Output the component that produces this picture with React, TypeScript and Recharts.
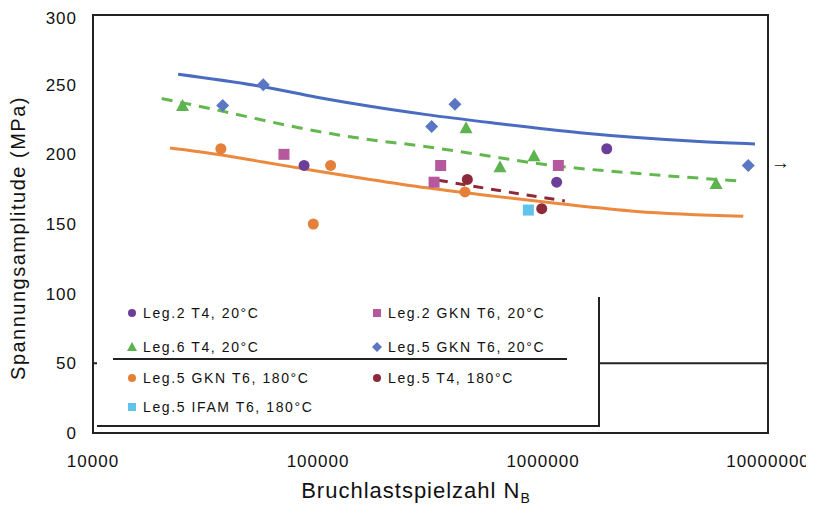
import { ComposedChart, Scatter, Line, XAxis, YAxis, ReferenceLine, ReferenceArea } from "recharts"

// fatigue test results, N = cycles to failure, s = stress amplitude (MPa)
const leg2T4_20 = [
  { n: 86700, s: 192 },
  { n: 1150000, s: 180 },
  { n: 1920000, s: 204 },
]
const leg2GknT6_20 = [
  { n: 70600, s: 200 },
  { n: 351000, s: 192 },
  { n: 328000, s: 180 },
  { n: 1170000, s: 192 },
]
const leg6T4_20 = [
  { n: 25000, s: 235 },
  { n: 455000, s: 219 },
  { n: 644000, s: 191 },
  { n: 912000, s: 199 },
  { n: 5880000, s: 179 },
]
const leg5GknT6_20 = [
  { n: 37700, s: 235 },
  { n: 57100, s: 250 },
  { n: 406000, s: 236 },
  { n: 320000, s: 220 },
  { n: 8170000, s: 192 },
]
const leg5GknT6_180 = [
  { n: 37000, s: 204 },
  { n: 113800, s: 192 },
  { n: 95300, s: 150 },
  { n: 450000, s: 173 },
]
const leg5T4_180 = [
  { n: 461000, s: 182 },
  { n: 987000, s: 161 },
]
const leg5IfamT6_180 = [{ n: 861000, s: 160 }]

// trend lines
const trendBlue = [
  { n: 23900, s: 257.5 },
  { n: 57100, s: 248.5 },
  { n: 98700, s: 241 },
  { n: 170000, s: 234.5 },
  { n: 304000, s: 228.5 },
  { n: 601000, s: 222.5 },
  { n: 1460000, s: 215.5 },
  { n: 2610000, s: 212 },
  { n: 5160000, s: 209 },
  { n: 8750000, s: 207.5 },
]
const trendGreen = [
  { n: 20200, s: 240 },
  { n: 34000, s: 232.5 },
  { n: 53400, s: 225.5 },
  { n: 89000, s: 218 },
  { n: 154000, s: 211.5 },
  { n: 304000, s: 205.5 },
  { n: 490000, s: 200.5 },
  { n: 1040000, s: 192.5 },
  { n: 2780000, s: 186 },
  { n: 7260000, s: 181 },
]
const trendOrange = [
  { n: 22000, s: 204.5 },
  { n: 35500, s: 200 },
  { n: 57100, s: 194.5 },
  { n: 98700, s: 188 },
  { n: 170000, s: 182 },
  { n: 304000, s: 176 },
  { n: 601000, s: 170 },
  { n: 1190000, s: 164.5 },
  { n: 2610000, s: 159 },
  { n: 7760000, s: 155.5 },
]
const trendDarkRed = [
  { n: 341000, s: 181.5 },
  { n: 562000, s: 175.5 },
  { n: 1250000, s: 166.5 },
]

const xTicks = [10000, 100000, 1000000, 10000000]
const yTicks = [0, 50, 100, 150, 200, 250, 300]

const legendItems = [
  { label: "Leg.2 T4, 20°C", kind: "circle", color: "#6b3f99", col: 0, row: 0 },
  { label: "Leg.2 GKN T6, 20°C", kind: "square", color: "#b5589e", col: 1, row: 0 },
  { label: "Leg.6 T4, 20°C", kind: "triangle", color: "#5cb34f", col: 0, row: 1 },
  { label: "Leg.5 GKN T6, 20°C", kind: "diamond", color: "#5b77c4", col: 1, row: 1 },
  { label: "Leg.5 GKN T6, 180°C", kind: "circle", color: "#e4803a", col: 0, row: 2 },
  { label: "Leg.5 T4, 180°C", kind: "circle", color: "#8c2a3a", col: 1, row: 2 },
  { label: "Leg.5 IFAM T6, 180°C", kind: "square", color: "#5fc3ea", col: 0, row: 3 },
]

const FONT = "'Liberation Sans', Arial, sans-serif"

const drawMarker = (kind: string, color: string, cx: number, cy: number, r = 5.5) => {
  if (kind === "square") return <rect x={cx - r} y={cy - r} width={r * 2} height={r * 2} fill={color} />
  if (kind === "triangle")
    return <polygon points={`${cx},${cy - r - 1} ${cx - r - 1},${cy + r} ${cx + r + 1},${cy + r}`} fill={color} />
  if (kind === "diamond")
    return <polygon points={`${cx},${cy - r - 1} ${cx + r + 1},${cy} ${cx},${cy + r + 1} ${cx - r - 1},${cy}`} fill={color} />
  return <circle cx={cx} cy={cy} r={r} fill={color} />
}

const shape = (kind: string, color: string) => (props: any) => drawMarker(kind, color, props.cx, props.cy)

const LegendBox = () => (
  <div
    style={{
      position: "absolute",
      left: 89,
      top: 289,
      width: 501,
      height: 128,
      background: "#fff",
      borderRight: "2px solid #222",
      borderBottom: "2px solid #222",
      fontFamily: FONT,
      fontSize: 14,
      letterSpacing: 1.6,
      color: "#111",
    }}
  >
    <div style={{ position: "absolute", left: 16, top: 61, width: 454, height: 2, background: "#222" }} />
    {legendItems.map((it) => {
      const cy = [16, 50, 81, 110][it.row]
      const mx = it.col === 0 ? 35 : 280
      return (
        <div key={it.label}>
          <svg style={{ position: "absolute", left: mx - 7, top: cy - 7 }} width={14} height={14}>
            {drawMarker(it.kind, it.color, 7, 7, 4)}
          </svg>
          <div style={{ position: "absolute", left: mx + 11, top: cy - 9, lineHeight: "18px", whiteSpace: "nowrap" }}>
            {it.label}
          </div>
        </div>
      )
    })}
  </div>
)

export default function App() {
  return (
    <div style={{ position: "relative", width: 806, height: 501, fontFamily: FONT }}>
      <ComposedChart width={806} height={501} margin={{ top: 7, right: 46, bottom: 26, left: 25 }}>
        <XAxis
          dataKey="n"
          type="number"
          scale="log"
          domain={[10000, 10000000]}
          ticks={xTicks}
          allowDataOverflow
          height={50}
          tickSize={0}
          tickMargin={22}
          axisLine={{ stroke: "#222", strokeWidth: 2 }}
          tick={{ fill: "#111", fontSize: 17, letterSpacing: 1 }}
        />
        <YAxis
          dataKey="s"
          type="number"
          domain={[0, 300]}
          ticks={yTicks}
          width={60}
          tickSize={0}
          tickMargin={16}
          axisLine={{ stroke: "#222", strokeWidth: 2 }}
          tick={{ fill: "#111", fontSize: 17, letterSpacing: 1 }}
        />
        <ReferenceArea x1={10000} x2={10000000} y1={0} y2={300} fill="none" stroke="#222" strokeWidth={2} />
        <ReferenceLine y={50} stroke="#222" strokeWidth={2} />
        <Line data={trendBlue} dataKey="s" type="monotone" stroke="#4a6cc0" strokeWidth={3} dot={false} isAnimationActive={false} />
        <Line data={trendGreen} dataKey="s" type="monotone" stroke="#62b84f" strokeWidth={3} strokeDasharray="11 8" dot={false} isAnimationActive={false} />
        <Line data={trendOrange} dataKey="s" type="monotone" stroke="#eb8a3e" strokeWidth={3} dot={false} isAnimationActive={false} />
        <Line data={trendDarkRed} dataKey="s" type="monotone" stroke="#8c2a3a" strokeWidth={3} strokeDasharray="10 8" dot={false} isAnimationActive={false} />
        <Scatter data={leg2T4_20} dataKey="s" shape={shape("circle", "#6b3f99")} isAnimationActive={false} />
        <Scatter data={leg2GknT6_20} dataKey="s" shape={shape("square", "#b5589e")} isAnimationActive={false} />
        <Scatter data={leg6T4_20} dataKey="s" shape={shape("triangle", "#5cb34f")} isAnimationActive={false} />
        <Scatter data={leg5GknT6_20} dataKey="s" shape={shape("diamond", "#5b77c4")} isAnimationActive={false} />
        <Scatter data={leg5GknT6_180} dataKey="s" shape={shape("circle", "#e4803a")} isAnimationActive={false} />
        <Scatter data={leg5T4_180} dataKey="s" shape={shape("circle", "#8c2a3a")} isAnimationActive={false} />
        <Scatter data={leg5IfamT6_180} dataKey="s" shape={shape("square", "#5fc3ea")} isAnimationActive={false} />
      </ComposedChart>
      <LegendBox />
      <div style={{ position: "absolute", left: 763, top: 144, fontSize: 19, fontWeight: "bold", color: "#111" }}>→</div>
      <div
        style={{
          position: "absolute",
          left: 10,
          top: 230,
          width: 0,
          height: 0,
        }}
      >
        <div
          style={{
            position: "absolute",
            left: 0,
            top: 0,
            transform: "translate(-50%, -50%) rotate(-90deg)",
            whiteSpace: "nowrap",
            fontSize: 20,
            letterSpacing: 1.5,
            color: "#111",
          }}
        >
          Spannungsamplitude (MPa)
        </div>
      </div>
      <div
        style={{
          position: "absolute",
          left: 0,
          top: 470,
          width: 816,
          textAlign: "center",
          fontSize: 22,
          letterSpacing: 1,
          color: "#111",
          whiteSpace: "nowrap",
        }}
      >
        Bruchlastspielzahl N<sub style={{ fontSize: 14 }}>B</sub>
      </div>
    </div>
  )
}
